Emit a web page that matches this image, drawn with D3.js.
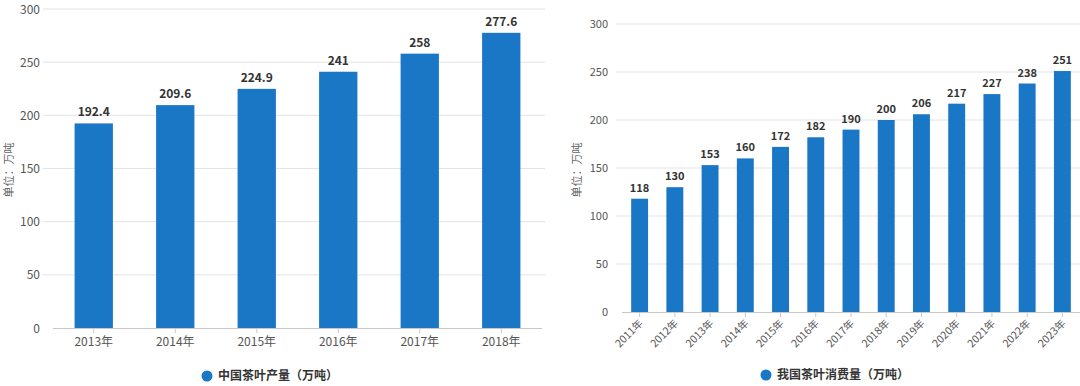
<!DOCTYPE html>
<html><head><meta charset="utf-8">
<script src="https://cdn.jsdelivr.net/npm/d3@7"></script>
<style>body{margin:0;background:#fff}svg{display:block;font-family:"Noto Sans CJK SC","Noto Sans",sans-serif}</style>
</head><body><svg id="c" width="1080" height="386"></svg>
<script>
const prodYears = ["2013年","2014年","2015年","2016年","2017年","2018年"];
const prodValues = [192.4,209.6,224.9,241,258,277.6];
const prodLabels = ["192.4","209.6","224.9","241","258","277.6"];
const consYears = ["2011年","2012年","2013年","2014年","2015年","2016年","2017年","2018年","2019年","2020年","2021年","2022年","2023年"];
const consValues = [118,130,153,160,172,182,190,200,206,217,227,238,251];
const yTicks = [0,50,100,150,200,250,300];
const unitTitle = "单位：万吨";
const legend1 = "中国茶叶产量（万吨）";
const legend2 = "我国茶叶消费量（万吨）";
const barColor = "#1a77c6";

const svg = d3.select("#c");

function drawChart(o){
  const g = svg.append("g");
  const x = d3.scaleBand().domain(o.cats).range([o.x0,o.x1]).paddingInner(o.pad).paddingOuter(o.pad/2);
  const y = d3.scaleLinear().domain([0,300]).range([o.y0,o.y1]);
  g.selectAll(".grid").data(yTicks.slice(1)).join("line")
    .attr("x1",o.gx0).attr("x2",o.gx1).attr("y1",d=>y(d)).attr("y2",d=>y(d))
    .attr("stroke","#e3e3e3").attr("stroke-width",1);
  g.selectAll(".yl").data(yTicks).join("text")
    .attr("x",o.ylx).attr("y",d=>y(d)).attr("dy","0.38em").attr("text-anchor","end")
    .attr("font-size",o.yfs).attr("fill","#555").text(d=>d);
  g.selectAll("rect").data(o.vals).join("rect")
    .attr("x",(d,i)=>x(o.cats[i])).attr("width",x.bandwidth())
    .attr("y",d=>y(d)).attr("height",d=>y(0)-y(d)).attr("fill",barColor);
  g.append("line").attr("x1",o.x0).attr("x2",o.x1).attr("y1",y(0)+0.5).attr("y2",y(0)+0.5)
    .attr("stroke","#c8c8c8");
  g.selectAll(".tk").data(o.cats).join("line")
    .attr("x1",d=>x(d)+x.bandwidth()/2).attr("x2",d=>x(d)+x.bandwidth()/2)
    .attr("y1",y(0)).attr("y2",y(0)+5).attr("stroke","#c8c8c8");
  g.selectAll(".dl").data(o.vals).join("text")
    .attr("x",(d,i)=>x(o.cats[i])+x.bandwidth()/2).attr("y",d=>y(d)-7)
    .attr("text-anchor","middle").attr("font-size",o.dfs).attr("font-weight","bold")
    .attr("fill","#333").text((d,i)=>o.labels[i]);
  if(o.rot){
    g.selectAll(".xl").data(o.cats).join("text")
      .attr("transform",d=>`translate(${x(d)+x.bandwidth()/2+4},${y(0)+12}) rotate(-45)`)
      .attr("text-anchor","end").attr("font-size",o.xfs).attr("fill","#555").text(d=>d);
  } else {
    g.selectAll(".xl").data(o.cats).join("text")
      .attr("x",d=>x(d)+x.bandwidth()/2).attr("y",y(0)+18)
      .attr("text-anchor","middle").attr("font-size",o.xfs).attr("fill","#555").text(d=>d);
  }
  g.append("text").attr("transform",`translate(${o.tx},${o.ty}) rotate(-90)`)
    .attr("text-anchor","middle").attr("font-size",11).attr("fill","#666").text(unitTitle);
  g.append("circle").attr("cx",o.lx).attr("cy",o.ly).attr("r",5.5).attr("fill",barColor);
  g.append("text").attr("x",o.lx+11).attr("y",o.ly).attr("dy","0.35em")
    .attr("font-size",12).attr("font-weight","bold").attr("fill","#333").text(o.legend);
}

drawChart({cats:prodYears,vals:prodValues,labels:prodLabels,x0:53,x1:542,pad:0.53,
  y0:328,y1:9,gx0:43,gx1:545,ylx:40,yfs:12,dfs:12,xfs:12,rot:false,
  tx:13,ty:170,lx:207,ly:376,legend:legend1});

drawChart({cats:consYears,vals:consValues,labels:consValues.map(String),x0:622,x1:1080,pad:0.52,
  y0:312,y1:24,gx0:616,gx1:1080,ylx:608,yfs:11,dfs:11,xfs:10.5,rot:true,
  tx:581,ty:170,lx:766,ly:375,legend:legend2});
</script></body></html>
